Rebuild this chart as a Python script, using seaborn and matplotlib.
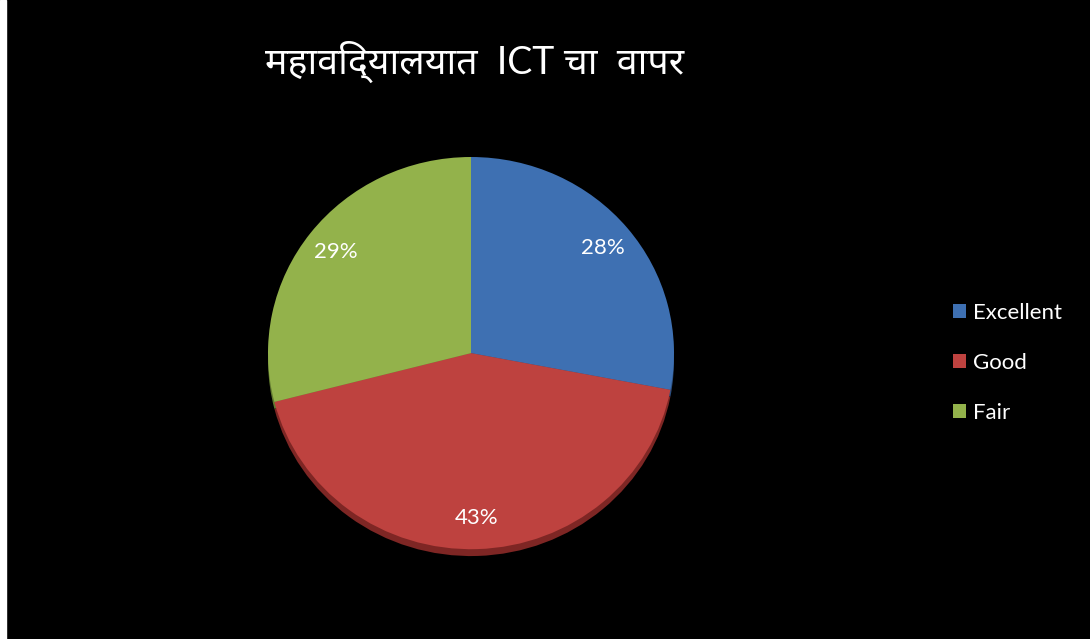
import matplotlib
matplotlib.use("Agg")
import matplotlib.pyplot as plt
import seaborn as sns
from matplotlib.patches import Rectangle

# data
categories = ["Excellent", "Good", "Fair"]
shares = [28, 43, 29]
title_text = "महाविद्यालयात  ICT चा  वापर"

sns.set_theme(style="dark")
plt.rcParams["font.family"] = ["Lato", "Noto Sans Devanagari", "Lohit Devanagari", "DejaVu Sans"]

colors = sns.color_palette(["#3e70b2", "#be423f", "#93b24b"])
shade = sns.color_palette(["#2a4d7c", "#7e2624", "#627a30"])

fig = plt.figure(figsize=(10.9, 6.39), dpi=100, facecolor="black")
fig.patches.append(Rectangle((0, 0), 6 / 1090, 1, transform=fig.transFigure,
                             color="white", zorder=0))

# pie box: x 268..674, y 157..559 (pixels from top)
ax = fig.add_axes([268 / 1090, 80 / 639, 406 / 1090, 402 / 639])
ax.set_facecolor("black")

# darker rim underneath to mimic the 3-D edge
ax.pie(shares, colors=shade, startangle=90, counterclock=False,
       center=(0, -0.035), radius=1.0, wedgeprops=dict(linewidth=0))

wedges, texts, autotexts = ax.pie(
    shares, colors=colors, startangle=90, counterclock=False,
    autopct="%1.0f%%", pctdistance=0.84,
    wedgeprops=dict(linewidth=0),
    textprops=dict(color="white", fontsize=16))

ax.set_xlim(-1.0, 1.0)
ax.set_ylim(-1.05, 1.0)
ax.set_aspect("auto")
ax.axis("off")

fig.text(475 / 1090, 1 - 62 / 639, title_text, color="white", fontsize=27,
         ha="center", va="center")

leg = fig.legend(wedges, categories, loc="center left",
                 bbox_to_anchor=(933 / 1090, 1 - 363 / 639),
                 frameon=False, fontsize=16, labelcolor="white",
                 handlelength=0.6, handleheight=0.6, handletextpad=0.3,
                 labelspacing=1.35)

fig.savefig("out.png", dpi=100, facecolor="black")
